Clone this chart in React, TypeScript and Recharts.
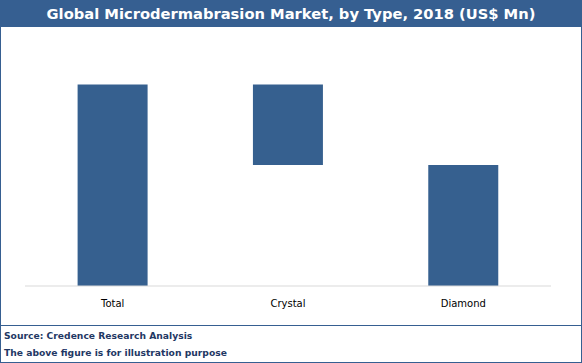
import React from 'react';
import { BarChart, Bar, XAxis, YAxis } from 'recharts';

// waterfall: base is the invisible offset, value is the visible bar
const categories = ['Total', 'Crystal', 'Diamond'];
const baseValues = [0, 60, 0];
const barValues = [100, 40, 60];

const data = categories.map((name, i) => ({
  name,
  base: baseValues[i],
  value: barValues[i],
}));

const BLUE = '#365F91';
const FONT = '"DejaVu Sans", Verdana, sans-serif';

const App: React.FC = () => {
  return (
    <div style={{ position: 'absolute', left: 0, top: 0, width: 582, height: 363, background: '#fff', fontFamily: FONT }}>
      <div
        style={{
          position: 'absolute', left: 0, top: 0, width: 582, height: 27, background: BLUE,
          color: '#fff', fontWeight: 'bold', fontSize: 14.7, lineHeight: '27px', textAlign: 'center',
        }}
      >
        Global Microdermabrasion Market, by Type, 2018 (US$ Mn)
      </div>
      <div style={{ position: 'absolute', left: 0, top: 28 }}>
        <BarChart
          width={582}
          height={297}
          data={data}
          margin={{ top: 6, right: 31, left: 25, bottom: 9 }}
          barCategoryGap="30%"
        >
          <XAxis
            dataKey="name"
            height={30}
            axisLine={{ stroke: '#D9D9D9' }}
            tickLine={false}
            tick={{ fill: '#000', fontSize: 10, fontFamily: FONT }}
            tickMargin={8}
          />
          <YAxis hide domain={[0, 125]} />
          <Bar dataKey="base" stackId="w" fill="transparent" isAnimationActive={false} />
          <Bar dataKey="value" stackId="w" fill="#36608F" isAnimationActive={false} />
        </BarChart>
      </div>
      <div style={{ position: 'absolute', left: 0, top: 325, width: 582, height: 1, background: BLUE }} />
      <div style={{ position: 'absolute', left: 4, top: 327, fontSize: 9.2, fontWeight: 'bold', color: '#1F3864', lineHeight: '17px' }}>
        Source: Credence Research Analysis
      </div>
      <div style={{ position: 'absolute', left: 4, top: 344, fontSize: 9.2, fontWeight: 'bold', color: '#1F3864', lineHeight: '17px' }}>
        The above figure is for illustration purpose
      </div>
      <div style={{ position: 'absolute', left: 0, top: 0, width: 580, height: 361, border: `1px solid ${BLUE}`, pointerEvents: 'none' }} />
    </div>
  );
};

export default App;
